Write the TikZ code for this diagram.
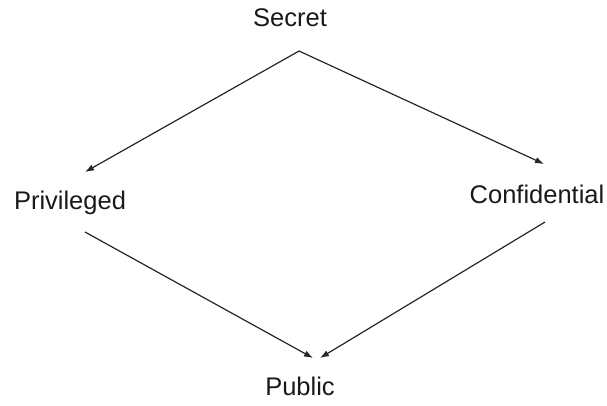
\documentclass[tikz,border=0pt]{standalone}
\usepackage{fontspec}
\setmainfont{Liberation Sans}
\usetikzlibrary{arrows.meta, positioning}

\begin{document}
\begin{tikzpicture}[
    x=1pt, y=-1pt,
    level/.style={inner sep=0pt, font=\fontsize{25.5}{30}\selectfont, text=black!90},
    flow/.style={draw=black!85, line width=1.2pt, -{Latex[length=9pt, width=6.5pt]}}
]
\useasboundingbox (0,0) rectangle (607,405);

\node[level] (secret) at (290,18) {Secret};
\node[level] (priv) at (70,203) {Privileged};
\node[level] (conf) at (537,194) {Confidential};
\node[level] (public) at (300,386) {Public};

% Arrow ends
\coordinate (top) at (299,51);
\coordinate (privIn) at (85,172);
\coordinate (confIn) at (544,164);
\coordinate (privOut) at (85,232);
\coordinate (confOut) at (545,222);
\coordinate (pubInL) at (313,358);
\coordinate (pubInR) at (320,358);

\draw[flow] (top) -- (privIn);
\draw[flow] (top) -- (confIn);
\draw[flow] (privOut) -- (pubInL);
\draw[flow] (confOut) -- (pubInR);

\end{tikzpicture}
\end{document}
